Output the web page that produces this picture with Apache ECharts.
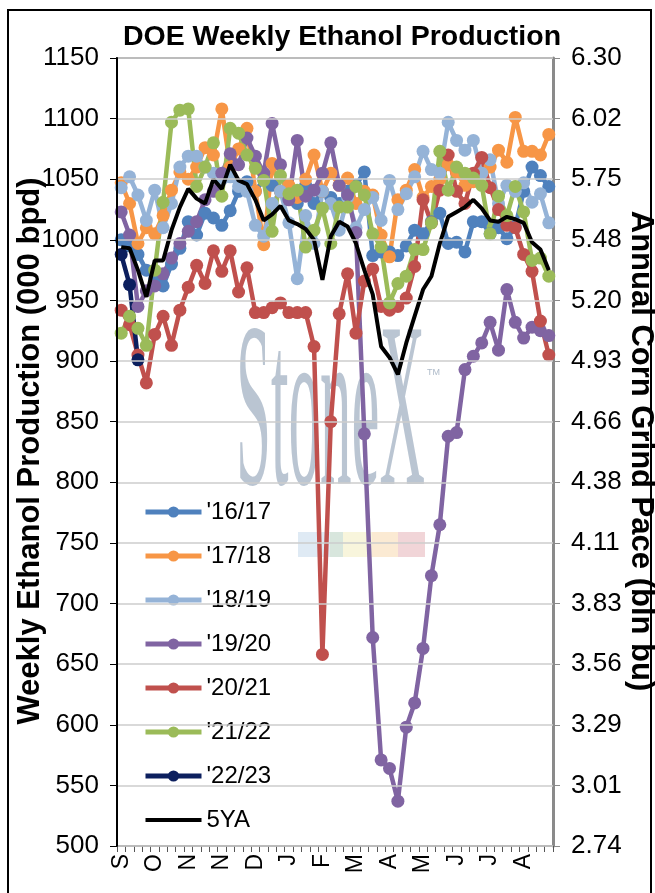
<!DOCTYPE html>
<html>
<head>
<meta charset="utf-8">
<script src="https://cdn.jsdelivr.net/npm/echarts@6/dist/echarts.min.js"></script>
<style>
html,body{margin:0;padding:0;background:#fff;}
#chart{width:655px;height:893px;}
</style>
</head>
<body>
<div id="chart"></div>
<script>
// Tick labels
const monthTicks = ['S','O','N','N','D','J','F','M','A','M','J','J','A'];
const rightTicks = ['2.74','3.01','3.29','3.56','3.83','4.11','4.38','4.66','4.93','5.20','5.48','5.75','6.02','6.30'];
const weeks = Array.from({length: 52}, (_, i) => 'W' + (i + 1));

// Series values (000 bpd), weekly, Sep -> Aug
const s1617 = [1000,995,988,975,968,962,980,993,1015,1004,1022,1018,1012,1024,1040,1048,1040,1050,1045,1040,1035,1030,1045,1030,1040,1035,1030,1040,1045,1056,987,990,990,987,995,1008,1005,1015,1022,997,998,990,1015,1015,1005,1010,1001,1011,1040,1060,1053,1044];
const s1718 = [1047,1030,997,1010,1005,1020,1041,1056,1050,1060,1076,1070,1108,1060,1075,1092,1040,996,1063,1040,1045,1035,1050,1070,1040,1055,1045,1051,1030,1040,1037,1004,986,1033,1041,1058,1035,1044,1050,1062,1056,1045,1048,1055,1060,1074,1064,1101,1073,1073,1070,1087];
const s1819 = [1043,1052,1037,1016,1041,1010,1030,1060,1069,1069,1060,1055,1050,1052,1044,1040,1012,1003,1030,1040,1014,968,1020,997,1040,1030,1008,1035,1010,1025,1035,1016,1049,1025,1038,1052,1073,1058,1055,1097,1082,1074,1082,1055,1066,1030,1045,1040,1047,1031,1038,1014];
const s1920 = [1023,1004,945,958,962,972,985,997,1007,1015,1033,1040,1055,1071,1062,1084,1069,1055,1096,1062,1033,1082,1036,1041,1055,1080,1045,1037,1006,840,672,571,564,537,598,618,663,723,765,838,841,893,904,915,932,909,959,932,919,928,925,921];
const s2021 = [942,930,905,882,922,937,913,942,961,979,964,991,974,991,957,977,940,940,944,948,940,940,940,912,658,850,939,972,923,966,976,945,942,945,952,978,1033,1014,1041,1070,1040,1030,1055,1068,1043,1025,1012,1010,988,974,933,905];
const s2122 = [923,937,927,913,975,1031,1097,1107,1108,1044,1060,1080,1036,1092,1088,1070,1059,1049,1007,1053,1038,1041,994,1008,1026,997,1027,1027,1044,1037,1005,994,948,964,970,992,992,1014,1073,1041,1060,1055,1051,1045,1005,1036,1020,1044,1023,983,985,970];
const s2223 = [988,963,901];
const fiveYA = [994,993,975,953,983,983,1008,1027,1042,1034,1030,1050,1042,1062,1049,1046,1033,1016,1021,1028,1016,1013,1009,1000,967,1003,1015,1011,997,975,955,912,903,889,915,937,959,970,997,1019,1023,1027,1033,1026,1016,1015,1019,1017,1014,998,992,975];

const seriesDefs = [
  {name: "'16/17", data: s1617, color: '#4F81BD'},
  {name: "'17/18", data: s1718, color: '#F79646'},
  {name: "'18/19", data: s1819, color: '#95B3D7'},
  {name: "'19/20", data: s1920, color: '#8064A2'},
  {name: "'20/21", data: s2021, color: '#C0504D'},
  {name: "'21/22", data: s2122, color: '#9BBB59'},
  {name: "'22/23", data: s2223, color: '#0C1F5E'}
];

const FONT = 'Liberation Sans, Arial, sans-serif';

const series = seriesDefs.map(d => ({
  name: d.name,
  type: 'line',
  data: d.data,
  symbol: 'circle',
  symbolSize: 13,
  showAllSymbol: true,
  itemStyle: {color: d.color},
  lineStyle: {color: d.color, width: 4.5},
  emphasis: {disabled: true},
  z: 3
}));
series.push({
  name: '5YA',
  type: 'line',
  data: fiveYA,
  symbol: 'none',
  itemStyle: {color: '#000'},
  lineStyle: {color: '#000', width: 4},
  emphasis: {disabled: true},
  z: 4
});

const legendData = seriesDefs.map(d => ({name: d.name}));
legendData.push({name: '5YA', itemStyle: {opacity: 0}, lineStyle: {color: '#000', width: 4}});

const chart = echarts.init(document.getElementById('chart'), null, {renderer: 'canvas'});
chart.setOption({
  animation: false,
  backgroundColor: '#fff',
  grid: {left: 117, right: 102, top: 58, bottom: 47, show: true, borderColor: '#8a8a8a', borderWidth: 2, backgroundColor: 'transparent'},
  legend: {
    orient: 'vertical',
    left: 119,
    top: 492,
    padding: [8, 24, 8, 24],
    backgroundColor: '#fff',
    itemWidth: 56,
    itemHeight: 14,
    itemGap: 20,
    lineStyle: {width: 5},
    textStyle: {fontFamily: FONT, fontSize: 24, color: '#000', lineHeight: 24},
    data: legendData,
    z: 10
  },
  xAxis: {
    type: 'category',
    data: weeks,
    boundaryGap: true,
    axisLine: {lineStyle: {color: '#8a8a8a', width: 2}},
    axisTick: {show: true, interval: 0, length: 6, lineStyle: {color: '#555', width: 1}},
    axisLabel: {
      interval: 3,
      rotate: 90,
      margin: 8,
      fontFamily: FONT,
      fontSize: 23,
      color: '#000',
      formatter: (v, idx) => monthTicks[Math.round(idx / 4)]
    },
    splitLine: {show: false}
  },
  yAxis: [
    {
      type: 'value',
      min: 500, max: 1150, interval: 50,
      position: 'left',
      axisLine: {show: true, lineStyle: {color: '#000', width: 2}},
      axisTick: {show: true, length: 7, lineStyle: {color: '#000'}},
      axisLabel: {fontFamily: FONT, fontSize: 26, color: '#000', margin: 18, formatter: v => String(v)},
      splitLine: {show: true, lineStyle: {color: '#cccccc', width: 1.5}},
      z: 12
    },
    {
      type: 'value',
      min: 500, max: 1150, interval: 50,
      position: 'right',
      axisLine: {show: true, lineStyle: {color: '#8a8a8a', width: 3}},
      axisTick: {show: true, length: 7, lineStyle: {color: '#8a8a8a'}},
      axisLabel: {fontFamily: FONT, fontSize: 26, color: '#000', margin: 18,
        formatter: v => rightTicks[Math.round((v - 500) / 50)]},
      splitLine: {show: false}
    }
  ],
  graphic: [
    {type: 'rect', shape: {x: 8, y: 10, width: 643, height: 900}, style: {fill: 'none', stroke: '#000', lineWidth: 2}, z: 0, silent: true},
    {type: 'text', x: 342, y: 37, style: {text: 'DOE Weekly Ethanol Production', font: 'bold 28.5px ' + FONT, fill: '#000', align: 'center', verticalAlign: 'middle'}, z: 5},
    {type: 'text', x: 30, y: 451, rotation: Math.PI / 2, style: {text: 'Weekly Ethanol Production (000 bpd)', font: 'bold 31px ' + FONT, fill: '#000', align: 'center', verticalAlign: 'middle'}, z: 5},
    {type: 'text', x: 641, y: 451, rotation: -Math.PI / 2, style: {text: 'Annual Corn Grind Pace (bln bu)', font: 'bold 31px ' + FONT, fill: '#000', align: 'center', verticalAlign: 'middle'}, z: 5},
    {type: 'text', x: 236, y: 540, scaleY: 3.75, style: {text: 'StoneX', font: '63px Liberation Serif, serif', fill: 'rgba(160,174,192,0.72)', align: 'left', verticalAlign: 'bottom'}, z: 1, silent: true},
    {type: 'text', x: 427, y: 368, style: {text: 'TM', font: '9px ' + FONT, fill: 'rgba(160,174,192,0.85)'}, z: 1, silent: true},
    {type: 'rect', shape: {x: 298, y: 532, width: 32, height: 25}, style: {fill: '#dfeaf4'}, z: 1, silent: true},
    {type: 'rect', shape: {x: 330, y: 532, width: 13, height: 25}, style: {fill: '#d8e6dd'}, z: 1, silent: true},
    {type: 'rect', shape: {x: 343, y: 532, width: 29, height: 25}, style: {fill: '#f8f5dc'}, z: 1, silent: true},
    {type: 'rect', shape: {x: 372, y: 532, width: 26, height: 25}, style: {fill: '#fbead3'}, z: 1, silent: true},
    {type: 'rect', shape: {x: 398, y: 532, width: 27, height: 25}, style: {fill: '#f1d5d8'}, z: 1, silent: true}
  ],
  series: series
});
</script>
</body>
</html>
